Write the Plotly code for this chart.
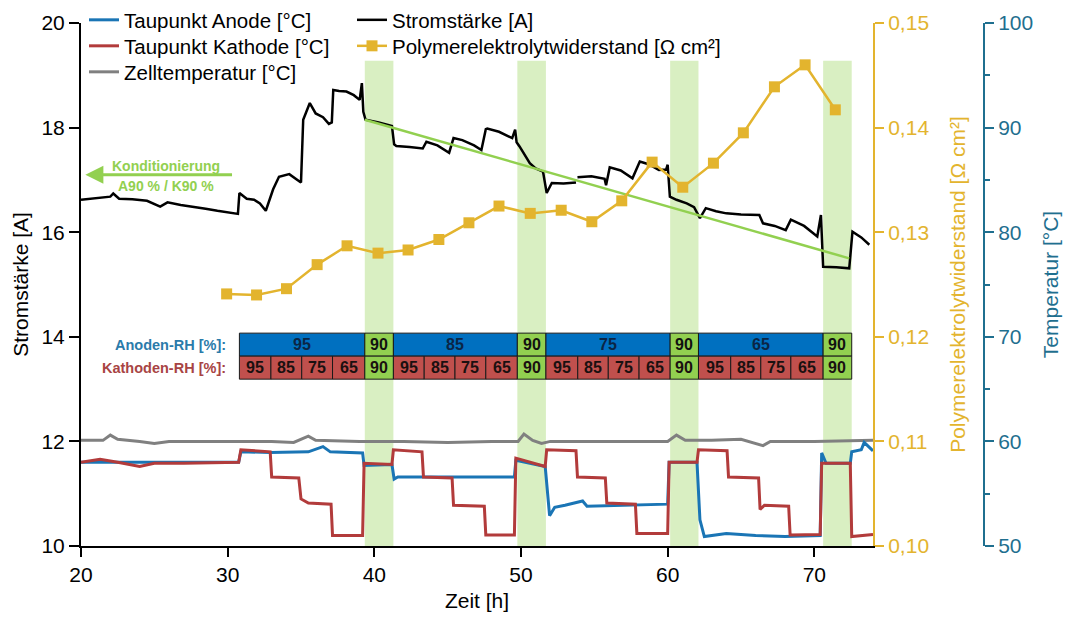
import plotly.graph_objects as go

# ---------------- data ----------------
# Stromstärke [A]
cur_t = [20.0, 21.0, 22.0, 22.2, 22.6, 23.5, 24.5, 25.4, 25.9, 26.8, 27.7, 28.5, 29.3, 30.0, 30.7,
         30.8, 31.3, 31.8, 32.2, 32.6, 33.1, 33.5, 34.2, 34.9, 35.0, 35.15, 35.6, 36.0, 36.5, 36.9,
         37.1, 37.2, 37.6, 38.1, 38.6, 39.0, 39.15, 39.25, 39.4, 40.3, 41.2, 41.35, 41.5, 42.4,
         43.3, 43.55, 44.3, 45.1, 45.4, 46.0, 46.8, 47.3, 47.6, 47.7, 48.5, 49.4, 49.6, 49.7, 49.9,
         50.6, 51.0, 51.5, 51.75, 52.1, 52.9, 53.75, None, 53.85, 54.8, 55.7, 55.8, 56.05, 56.8,
         57.6, 58.1, 58.7, 59.4, 59.9, 60.0, 60.15, 60.6, 61.3, 61.8, 62.2, 62.6, 63.3, 64.0, 65.0,
         66.25, 66.5, 67.3, 68.05, 68.4, 69.3, 70.2, 70.45, 70.6, 71.5, 72.38, 72.6, 73.2, 73.75]
cur_v = [16.62, 16.65, 16.68, 16.74, 16.64, 16.63, 16.60, 16.49, 16.57, 16.52, 16.49, 16.45, 16.41, 16.38, 16.35,
         16.75, 16.64, 16.62, 16.55, 16.41, 16.82, 17.06, 17.11, 16.97, 16.95, 18.15, 18.47, 18.27, 18.20, 18.07,
         18.10, 18.72, 18.70, 18.69, 18.62, 18.53, 18.85, 18.30, 18.15, 18.10, 18.03, 17.68, 17.65, 17.63,
         17.60, 17.73, 17.66, 17.52, 17.80, 17.76, 17.66, 17.57, 17.97, 17.98, 17.92, 17.80, 17.96, 17.72, 17.64,
         17.32, 17.22, 17.16, 16.75, 16.94, 16.93, 16.95, None, 17.05, 17.07, 17.02, 16.90, 17.24, 17.18,
         17.03, 17.35, 17.30, 17.19, 17.20, 17.29, 16.68, 16.62, 16.55, 16.48, 16.27, 16.46, 16.40, 16.36, 16.34,
         16.33, 16.17, 16.12, 16.04, 16.24, 16.12, 15.92, 16.33, 15.34, 15.33, 15.31, 16.01, 15.90, 15.76]

# Trendlinie
trend_t = [39.35, 72.38]
trend_v = [18.15, 15.50]

# Polymerelektrolytwiderstand [Ohm cm²]
res_t = [29.93, 31.97, 34.01, 36.10, 38.14, 40.25, 42.30, 44.40, 46.45, 48.50, 50.63,
         52.74, 54.83, 56.87, 58.94, 61.03, 63.12, 65.16, 67.28, 69.37, 71.43]
res_v = [0.1241, 0.1240, 0.1246, 0.1269, 0.1287, 0.1280, 0.1283, 0.1293, 0.1309, 0.1325, 0.1318,
         0.1321, 0.1310, 0.1330, 0.1367, 0.1343, 0.1366, 0.1395, 0.1439, 0.1460, 0.1417]

# Taupunkt Kathode [°C]
cat_t = [20.0, 21.3, 22.5, 24.0, 25.0, 27.0, 30.75, 30.9, 32.9, 33.0, 34.85, 35.0, 35.5, 37.05, 37.15,
         39.2, 39.3, 41.2, 41.3, 43.25, 43.35, 45.3, 45.4, 47.5, 47.6, 49.55, 49.65, 51.65, 51.75,
         53.75, 53.85, 55.75, 55.85, 57.8, 57.9, 60.0, 60.1, 62.0, 62.1, 64.05, 64.15, 66.2, 66.3,
         66.6, 68.25, 68.35, 70.4, 70.5, 72.45, 72.55, 74.0]
cat_v = [58.0, 58.3, 58.0, 57.6, 57.9, 57.9, 58.0, 59.2, 59.0, 56.6, 56.5, 54.5, 54.1, 54.0, 51.0,
         51.0, 57.9, 57.8, 59.2, 59.0, 56.6, 56.5, 53.9, 53.8, 51.05, 51.05, 58.4, 57.6, 59.2,
         59.1, 56.6, 56.5, 54.1, 54.0, 51.2, 51.2, 58.0, 58.0, 59.2, 59.1, 56.6, 56.5, 53.5,
         53.9, 53.8, 51.05, 51.1, 57.9, 57.9, 50.9, 51.1]

# Taupunkt Anode [°C]
an_t = [20.0, 30.75, 30.9, 32.9, 35.5, 36.5, 37.0, 39.2, 39.3, 41.2, 41.35, 41.6, 45.0, 49.55, 49.65,
        51.65, 51.95, 52.3, 53.0, 54.2, 54.5, 57.9, 60.0, 60.1, 62.0, 62.2, 62.5, 64.0, 66.0, 68.0,
        70.4, 70.5, 70.8, 72.45, 72.55, 73.2, 73.4, 74.0]
an_v = [58.0, 58.0, 59.0, 58.95, 59.0, 59.5, 59.0, 58.9, 57.7, 57.8, 56.4, 56.6, 56.6, 56.6, 58.2,
        57.6, 52.9, 53.7, 53.9, 54.3, 53.8, 53.9, 54.0, 58.0, 58.0, 52.5, 50.9, 51.2, 51.0, 50.9,
        51.0, 58.9, 57.9, 57.9, 59.0, 59.2, 59.9, 59.1]

# Zelltemperatur [°C]
cell_t = [20.0, 21.5, 22.0, 22.5, 24.0, 25.0, 26.0, 30.0, 33.0, 34.5, 35.5, 36.0, 39.0, 42.0, 45.0,
          48.0, 49.8, 50.2, 50.8, 51.4, 52.0, 56.0, 60.0, 60.6, 61.2, 63.0, 65.0, 66.5, 67.0, 70.0, 74.0]
cell_v = [60.1, 60.1, 60.6, 60.2, 60.0, 59.8, 60.0, 60.0, 60.0, 59.9, 60.5, 60.1, 60.0, 60.0, 59.9,
          60.0, 60.0, 60.7, 60.1, 59.8, 60.0, 60.0, 60.0, 60.6, 60.1, 60.1, 60.2, 59.6, 60.0, 60.0, 60.1]

# RH-Tabelle
cell_edges = [30.8, 32.95, 35.05, 37.15, 39.35, 41.3, 43.4, 45.5, 47.6, 49.75, 51.7, 53.87, 55.95,
              58.05, 60.17, 62.1, 64.3, 66.35, 68.4, 70.6, 72.55]
cathode_rh = ["95", "85", "75", "65", "90"] * 4
anode_blocks = [(0, 4, "95"), (4, 5, "90"), (5, 9, "85"), (9, 10, "90"),
                (10, 14, "75"), (14, 15, "90"), (15, 19, "65"), (19, 20, "90")]
green_cells = [4, 9, 14, 19]

# ---------------- style ----------------
BLUE = "#1A75B5"
RED = "#B23B3B"
GRAY = "#808080"
YEL = "#E3B42E"
TEAL = "#1F6F8F"
LIME = "#92D050"
FONT = "Liberation Sans, Arial, sans-serif"

fig = go.Figure()

fig.add_trace(go.Scatter(x=cell_t, y=cell_v, yaxis="y3", mode="lines", name="Zelltemperatur [°C]",
                         line=dict(color=GRAY, width=3), legend="legend3"))
fig.add_trace(go.Scatter(x=an_t, y=an_v, yaxis="y3", mode="lines", name="Taupunkt Anode [°C]",
                         line=dict(color=BLUE, width=3), legend="legend"))
fig.add_trace(go.Scatter(x=cat_t, y=cat_v, yaxis="y3", mode="lines", name="Taupunkt Kathode [°C]",
                         line=dict(color=RED, width=3), legend="legend2"))
fig.add_trace(go.Scatter(x=cur_t, y=cur_v, yaxis="y", mode="lines", name="Stromstärke [A]",
                         line=dict(color="black", width=2.5), legend="legend4",
                         connectgaps=False))
fig.add_trace(go.Scatter(x=trend_t, y=trend_v, yaxis="y", mode="lines", showlegend=False,
                         line=dict(color=LIME, width=2.5)))
fig.add_trace(go.Scatter(x=res_t, y=res_v, yaxis="y2", mode="lines+markers",
                         name="Polymerelektrolytwiderstand [Ω cm²]",
                         line=dict(color=YEL, width=2.5),
                         marker=dict(symbol="square", size=11, color=YEL),
                         legend="legend5"))

shapes = []
# green bands
for gi in green_cells:
    shapes.append(dict(type="rect", xref="x", yref="y", x0=cell_edges[gi], x1=cell_edges[gi + 1],
                       y0=10, y1=19.28, fillcolor="rgba(146,208,80,0.35)", line=dict(width=0),
                       layer="below"))

ann = []
A_TOP, MID, C_BOT = 14.07, 13.63, 13.19
for (i0, i1, lab) in anode_blocks:
    col = LIME if lab == "90" else "#0070C0"
    shapes.append(dict(type="rect", xref="x", yref="y", x0=cell_edges[i0], x1=cell_edges[i1],
                       y0=MID, y1=A_TOP, fillcolor=col, line=dict(color="#1a1a1a", width=1),
                       layer="above"))
    ann.append(dict(x=(cell_edges[i0] + cell_edges[i1]) / 2, y=(MID + A_TOP) / 2, xref="x", yref="y",
                    text="<b>%s</b>" % lab, showarrow=False,
                    font=dict(size=16, color="#111111" if lab == "90" else "#0B2545", family=FONT)))
for i, lab in enumerate(cathode_rh):
    col = LIME if lab == "90" else "#C0504D"
    shapes.append(dict(type="rect", xref="x", yref="y", x0=cell_edges[i], x1=cell_edges[i + 1],
                       y0=C_BOT, y1=MID, fillcolor=col, line=dict(color="#1a1a1a", width=1),
                       layer="above"))
    ann.append(dict(x=(cell_edges[i] + cell_edges[i + 1]) / 2, y=(MID + C_BOT) / 2, xref="x", yref="y",
                    text="<b>%s</b>" % lab, showarrow=False,
                    font=dict(size=16, color="#1a1010", family=FONT)))

ann.append(dict(x=30.0, y=(MID + A_TOP) / 2, xref="x", yref="y", xanchor="right",
                text="<b>Anoden-RH [%]:</b>", showarrow=False,
                font=dict(size=14.5, color="#2B7BAA", family=FONT)))
ann.append(dict(x=30.0, y=(MID + C_BOT) / 2, xref="x", yref="y", xanchor="right",
                text="<b>Kathoden-RH [%]:</b>", showarrow=False,
                font=dict(size=14.5, color="#A84444", family=FONT)))

# conditioning arrow
ann.append(dict(x=20.3, y=17.1, ax=30.4, ay=17.1, xref="x", yref="y", axref="x", ayref="y",
                text="", showarrow=True, arrowhead=2, arrowsize=1.2, arrowwidth=3, arrowcolor=LIME))
ann.append(dict(x=25.8, y=17.27, xref="x", yref="y", text="<b>Konditionierung</b>", showarrow=False,
                font=dict(size=14, color=LIME, family=FONT)))
ann.append(dict(x=25.8, y=16.88, xref="x", yref="y", text="<b>A90 % / K90 %</b>", showarrow=False,
                font=dict(size=14, color=LIME, family=FONT)))

L, R, T, B = 81, 40, 23, 72
PW = 1065 - L - R
PH = 618 - T - B
dom_end = 792 / PW
pos3 = (984 - L) / PW


def leg(px, py):
    return dict(x=(px - L) / PW, y=(618 - B - py) / PH, xanchor="left", yanchor="middle",
                bgcolor="rgba(0,0,0,0)", font=dict(size=20.5, color="black"))


fig.update_layout(
    width=1065, height=618,
    margin=dict(l=L, r=R, t=T, b=B, autoexpand=False),
    template="none",
    paper_bgcolor="white", plot_bgcolor="white",
    font=dict(family=FONT, size=21, color="black"),
    separators=", ",
    shapes=shapes, annotations=ann,
    xaxis=dict(domain=[0, dom_end], range=[20, 74], tickvals=[20, 30, 40, 50, 60, 70],
               showgrid=False, zeroline=False, showline=True, linecolor="black", linewidth=2,
               ticks="outside", ticklen=9, tickwidth=2, tickcolor="black",
               title=dict(text="Zeit [h]", font=dict(size=21), standoff=8), automargin=False,
               tickfont=dict(size=21)),
    yaxis=dict(range=[10, 20], tickvals=[10, 12, 14, 16, 18, 20], showgrid=False, zeroline=False,
               showline=True, linecolor="black", linewidth=2, ticks="outside", ticklen=10,
               tickwidth=2, tickcolor="black", automargin=False,
               title=dict(text="Stromstärke [A]", font=dict(size=21)), tickfont=dict(size=21)),
    yaxis2=dict(overlaying="y", side="right", anchor="x", range=[0.10, 0.15],
                tickvals=[0.10, 0.11, 0.12, 0.13, 0.14, 0.15], tickformat=".2f",
                showgrid=False, zeroline=False, showline=True, linecolor=YEL, linewidth=2,
                ticks="outside", ticklen=9, tickwidth=2, tickcolor=YEL, automargin=False,
                tickfont=dict(size=21, color=YEL),
                title=dict(text="Polymerelektrolytwiderstand [Ω cm²]", font=dict(size=21, color=YEL),
                           standoff=22)),
    yaxis3=dict(overlaying="y", side="right", anchor="free", position=pos3, range=[50, 100],
                tickvals=[50, 60, 70, 80, 90, 100], showgrid=False, zeroline=False, showline=True,
                linecolor=TEAL, linewidth=2, ticks="outside", ticklen=9, tickwidth=2, tickcolor=TEAL,
                minor=dict(ticks="outside", ticklen=5, tickwidth=2, tickcolor=TEAL, dtick=5),
                automargin=False, tickfont=dict(size=21, color=TEAL),
                title=dict(text="Temperatur [°C]", font=dict(size=21, color=TEAL), standoff=10)),
    legend=leg(84, 20),
    legend2=leg(84, 46),
    legend3=leg(84, 72),
    legend4=leg(352, 20),
    legend5=leg(352, 46),
)

fig.write_html("out.html")
